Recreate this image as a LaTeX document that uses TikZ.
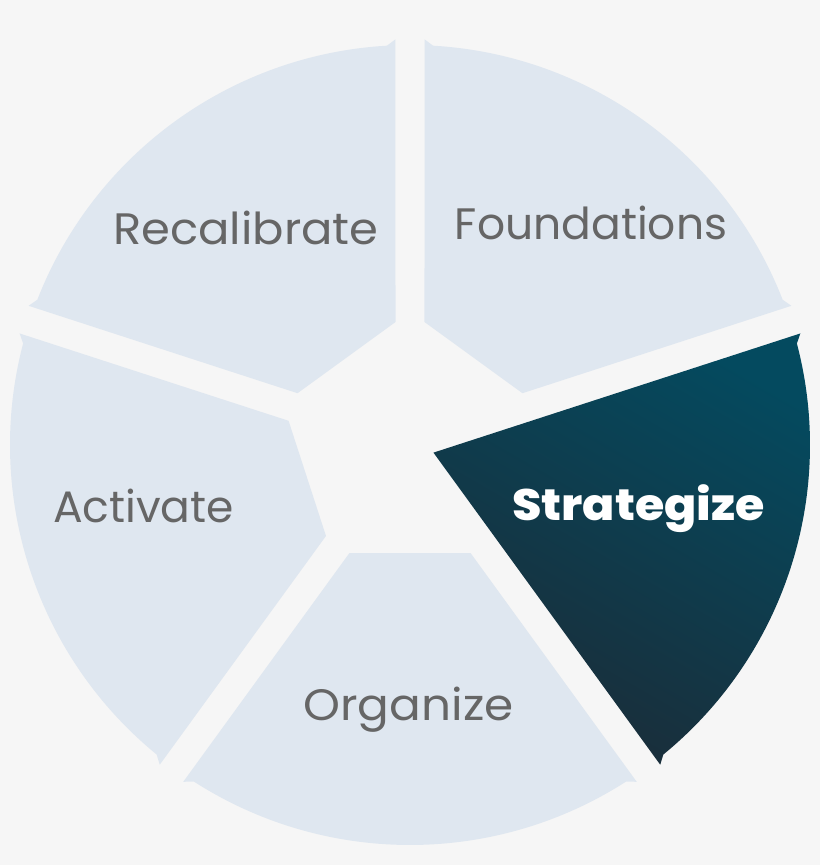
\documentclass[tikz,border=0pt]{standalone}
\usepackage{fontspec}
\setmainfont{Poppins}
\IfFontExistsTF{Poppins ExtraBold}{\newfontfamily\heavyfont{Poppins ExtraBold}}{\newfontfamily\heavyfont{Poppins Bold}}
\definecolor{bg}{HTML}{F6F6F6}
\definecolor{seg}{HTML}{DFE7F0}
\definecolor{txt}{HTML}{666666}
\definecolor{tealA}{HTML}{044A5F}
\definecolor{tealB}{HTML}{1B2C38}
\tikzset{
  segfill/.style={fill=seg},
  lbl/.style={anchor=base, text=txt, inner sep=0pt, font=\fontsize{44}{48}\selectfont},
  hlbl/.style={anchor=base, text=white, inner sep=0pt, font=\fontsize{44}{48}\heavyfont}
}
\begin{document}
\begin{tikzpicture}[x=1pt,y=1pt]
\useasboundingbox (-410,-420) rectangle (410,445);
\fill[bg] (-410,-420) rectangle (410,445);
\foreach \a in {54,126,198,270}{
  \fill[segfill, rotate=\a] (108,60.55) -- (33.95:406) -- (32.7:400)
    arc[start angle=32.7, end angle=-32.7, radius=400]
    -- (-33.95:406) -- (108,-60.55) -- cycle;
}
\shade[top color=tealA, middle color=tealA!85!tealB, bottom color=tealB, shading angle=-30]
  (-18:24.67) -- (15.95:406) -- (14.7:400)
  arc[start angle=14.7, end angle=-50.7, radius=400]
  -- (-51.95:406) -- cycle;
\node[lbl] (recal) at (-164,200) {\scalebox{1.056}[1]{Recalibrate}};
\node[lbl] (found) at (181,205) {Foundations};
\node[lbl] (activ) at (-266.5,-77) {Activate};
\node[lbl] (organ) at (-1.5,-275) {\scalebox{1.067}[1]{Organize}};
\node[hlbl] (strat) at (228.5,-75) {\scalebox{1.08}[1]{Strategize}};
\end{tikzpicture}
\end{document}
